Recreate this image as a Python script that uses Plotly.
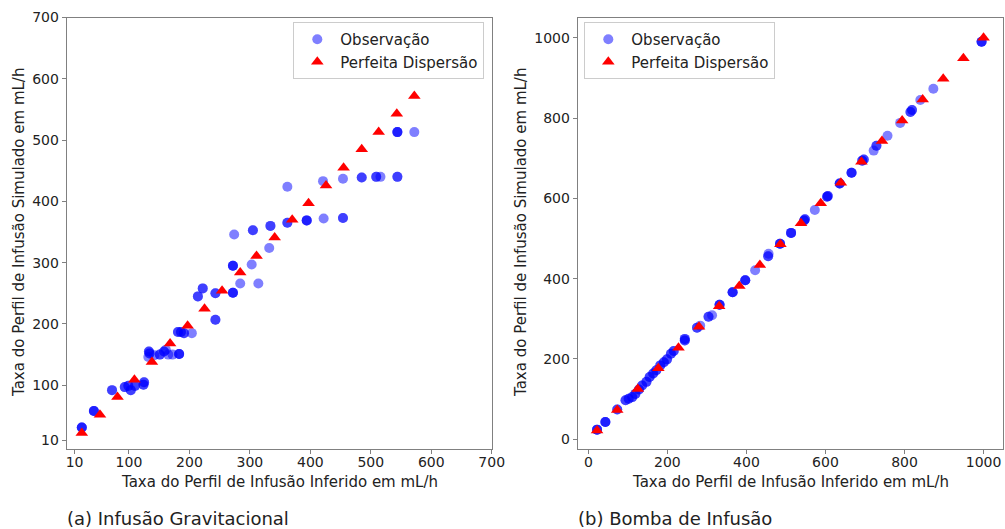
import plotly.graph_objects as go

# ---------------- data: (a) Infusão Gravitacional ----------------
grav_obs_x = [22, 42, 72, 93, 99, 103, 110, 124, 125, 133, 134, 132, 142, 151, 158, 161, 165, 172,
              183, 181, 186, 191, 204, 243, 214, 222, 243, 272, 272, 303, 284, 314, 332, 274,
              305, 334, 362, 394, 422, 454, 362, 421, 454, 485, 509, 516, 544, 544, 572]
grav_obs_y = [31, 58, 92, 97, 99, 92, 99, 101, 105, 155, 152, 146, 149, 150, 155, 158, 150, 150,
              151, 187, 187, 185, 185, 207, 245, 258, 250, 251, 295, 297, 266, 266, 324, 346,
              353, 360, 365, 369, 372, 373, 424, 433, 437, 439, 440, 440, 440, 513, 513]
# number of overlapping observations at each point
grav_obs_n = [3, 3, 2, 2, 2, 2, 2, 2, 2, 2, 2, 1, 1, 2, 2, 1, 1, 1,
              3, 2, 2, 2, 1, 2, 2, 2, 2, 3, 3, 1, 1, 1, 1, 1,
              2, 2, 2, 3, 1, 2, 1, 1, 1, 2, 2, 1, 2, 3, 1]
grav_ideal = [22, 52, 81, 109, 138, 168, 197, 225, 254, 284, 311, 341, 370, 397, 426, 455,
              485, 513, 543, 572]
grav_ticks = [10, 100, 200, 300, 400, 500, 600, 700]

# ---------------- data: (b) Bomba de Infusão ----------------
pump_obs_x = [22, 43, 73, 94, 102, 111, 119, 128, 136, 147, 155, 164, 172, 182, 191, 199, 209, 216,
              244, 244, 275, 283, 304, 313, 332, 365, 397, 422, 455, 456, 485, 513, 546, 548,
              573, 604, 606, 636, 666, 693, 697, 722, 729, 757, 789, 815, 819, 840, 873, 995]
pump_obs_y = [24, 43, 74, 97, 101, 105, 113, 124, 134, 143, 155, 164, 172, 184, 192, 199, 213, 220,
              246, 250, 278, 283, 305, 309, 335, 366, 396, 421, 456, 462, 487, 514, 545, 548,
              571, 604, 606, 637, 664, 694, 697, 719, 731, 756, 788, 815, 820, 845, 873, 990]
pump_obs_n = [3, 3, 2, 2, 2, 2, 2, 2, 2, 2, 2, 2, 2, 2, 2, 2, 2, 2,
              2, 2, 2, 1, 2, 1, 3, 3, 3, 1, 2, 1, 3, 3, 2, 2,
              1, 2, 2, 3, 3, 2, 2, 1, 2, 1, 1, 2, 2, 1, 1, 3]
pump_ideal = [22, 73, 125, 177, 228, 280, 331, 382, 434, 486, 538, 588, 639, 691, 743, 794,
              846, 898, 949, 1000]
pump_ticks = [0, 200, 400, 600, 800, 1000]

x_label = "Taxa do Perfil de Infusão Inferido em mL/h"
y_label = "Taxa do Perfil de Infusão Simulado em mL/h"
caption_a = "(a) Infusão Gravitacional"
caption_b = "(b) Bomba de Infusão"
name_obs = "Observação"
name_ideal = "Perfeita Dispersão"


def expand(xs, ys, ns):
    ex, ey = [], []
    for x, y, n in zip(xs, ys, ns):
        ex += [x] * n
        ey += [y] * n
    return ex, ey


W, H = 1005, 529
FONT = "DejaVu Sans"
TXT = "#222222"
AX = "#808080"

fig = go.Figure()

gx, gy = expand(grav_obs_x, grav_obs_y, grav_obs_n)
px_, py_ = expand(pump_obs_x, pump_obs_y, pump_obs_n)

circle = dict(symbol="circle", size=10, color="blue", opacity=0.5, line=dict(width=0))
tri = dict(symbol="triangle-up", size=11, color="red", line=dict(width=0))

fig.add_trace(go.Scatter(x=gx, y=gy, mode="markers", marker=circle, name=name_obs,
                         xaxis="x", yaxis="y", legend="legend"))
fig.add_trace(go.Scatter(x=grav_ideal, y=grav_ideal, mode="markers", marker=tri, name=name_ideal,
                         xaxis="x", yaxis="y", legend="legend"))
fig.add_trace(go.Scatter(x=px_, y=py_, mode="markers", marker=circle, name=name_obs,
                         xaxis="x2", yaxis="y2", legend="legend2"))
fig.add_trace(go.Scatter(x=pump_ideal, y=pump_ideal, mode="markers", marker=tri, name=name_ideal,
                         xaxis="x2", yaxis="y2", legend="legend2"))

axis_common = dict(showline=True, mirror=True, linecolor=AX, linewidth=1,
                   ticks="outside", ticklen=4, tickcolor=AX, tickwidth=1,
                   showgrid=False, zeroline=False, automargin=False,
                   tickfont=dict(family=FONT, size=14, color=TXT))
xaxis_extra = dict(ticklabelstandoff=-4)

def dom_x(a, b):
    return [a / W, b / W]

def dom_y(top, bottom):
    return [1 - bottom / H, 1 - top / H]

legend_common = dict(bgcolor="rgba(255,255,255,0.8)", bordercolor="#cccccc", borderwidth=1,
                     font=dict(family=FONT, size=15, color=TXT), itemwidth=36,
                     y=1 - 22 / H, yanchor="top")

fig.update_layout(
    width=W, height=H,
    margin=dict(l=0, r=0, t=0, b=0, pad=0, autoexpand=False),
    paper_bgcolor="white", plot_bgcolor="white",
    font=dict(family=FONT, color=TXT),
    xaxis=dict(axis_common, **xaxis_extra, domain=dom_x(66.7, 491.7), range=[-3, 700], anchor="y",
               tickvals=grav_ticks, ticktext=[str(t) for t in grav_ticks]),
    yaxis=dict(axis_common, domain=dom_y(17.5, 449), range=[-4, 700], anchor="x",
               tickvals=grav_ticks, ticktext=[str(t) for t in grav_ticks]),
    xaxis2=dict(axis_common, **xaxis_extra, domain=dom_x(577.7, 1003.3), range=[-27, 1050], anchor="y2",
                tickvals=pump_ticks, ticktext=[str(t) for t in pump_ticks]),
    yaxis2=dict(axis_common, domain=dom_y(17.7, 449.3), range=[-25, 1050], anchor="x2",
                tickvals=pump_ticks, ticktext=[str(t) for t in pump_ticks]),
    legend=dict(legend_common, x=484.3 / W, xanchor="right"),
    legend2=dict(legend_common, x=584.3 / W, xanchor="left"),
    showlegend=True,
)

ann = []
def add_text(text, x, y, size, angle=0, xanchor="center"):
    ann.append(dict(text=text, x=x / W, y=1 - y / H, xref="paper", yref="paper",
                    showarrow=False, textangle=angle, xanchor=xanchor, yanchor="middle",
                    font=dict(family=FONT, size=size, color=TXT)))

add_text(x_label, 279.2, 482, 15)
add_text(x_label, 790.5, 482, 15)
add_text(y_label, 19, 233, 15, angle=-90)
add_text(y_label, 521, 233, 15, angle=-90)
add_text(caption_a, 65, 518, 18, xanchor="left")
add_text(caption_b, 576, 518, 18, xanchor="left")
fig.update_layout(annotations=ann)

fig.write_html(
    "out.html",
    config={"displayModeBar": False},
    post_script="document.body.style.margin='0px';document.body.style.overflow='hidden';",
)
